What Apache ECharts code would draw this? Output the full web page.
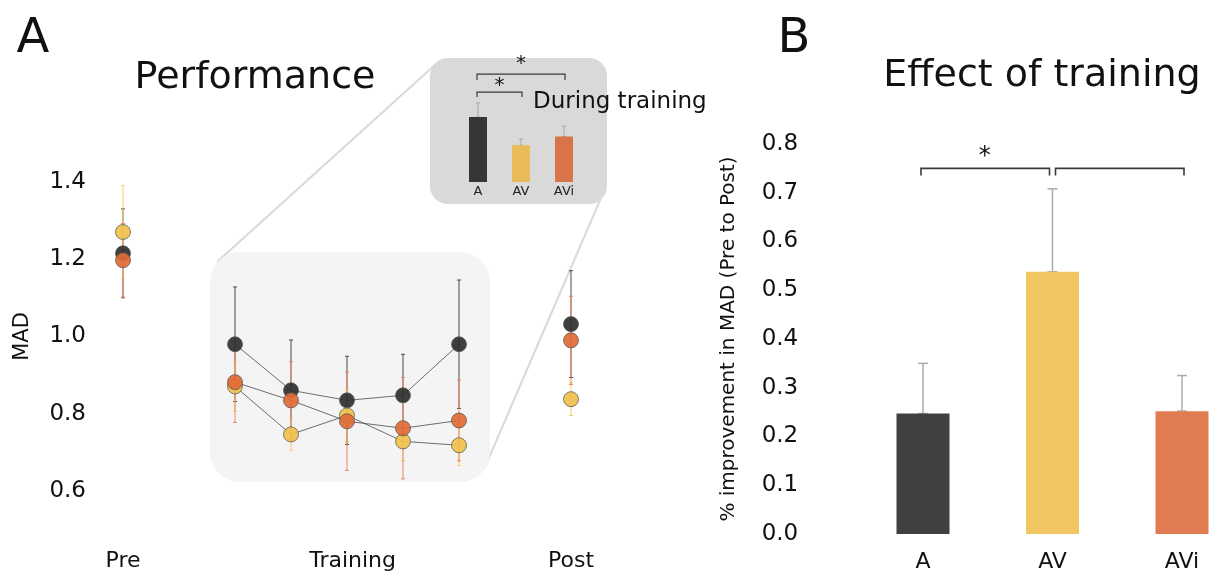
<!DOCTYPE html>
<html><head><meta charset="utf-8">
<script src="https://cdn.jsdelivr.net/npm/echarts@6/dist/echarts.min.js"></script>
<style>html,body{margin:0;padding:0;background:#fff}#c{width:1231px;height:577px}</style>
</head><body><div id="c"></div>
<script>
// ---------- data ----------
const phaseLabels = ['Pre', 'Training', 'Post'];
const phasePos = [0, 4.1, 8];
const sessionX = [0, 2, 3, 4, 5, 6, 8];           // Pre, T1..T5, Post
const madA   = [1.215, 0.980, 0.861, 0.835, 0.848, 0.980, 1.032];
const errA   = [0.115, 0.148, 0.130, 0.114, 0.106, 0.166, 0.138];
const madAV  = [1.270, 0.871, 0.747, 0.796, 0.729, 0.719, 0.838];
const errAV  = [0.120, 0.064, 0.041, 0.068, 0.050, 0.052, 0.042];
const madAVi = [1.197, 0.882, 0.835, 0.781, 0.763, 0.783, 0.990];
const errAVi = [0.095, 0.104, 0.100, 0.127, 0.131, 0.104, 0.114];
const madTicks = [0.6, 0.8, 1.0, 1.2, 1.4];

const groups = ['A', 'AV', 'AVi'];
const duringMean = [0.900, 0.770, 0.810];
const duringErr  = [0.065, 0.028, 0.048];

const improvement    = [0.247, 0.538, 0.252];
const improvementErr = [0.103, 0.170, 0.073];

// ---------- style ----------
const FONT = '"DejaVu Sans", Verdana, sans-serif';
const dotCol = ['#2f2f2f', '#f0c04c', '#e06a35'];
const errCol = ['#4a4a4a', '#f4cd6c', '#ea8a62'];
const barCol = ['#404040', '#f2c761', '#e17c52'];
const insetCol = ['#363636', '#e9bc58', '#d9744a'];

const chart = echarts.init(document.getElementById('c'));

function errRender(color, cap, width) {
  return function (params, api) {
    const x = api.value(0), lo = api.value(1), hi = api.value(2);
    const p1 = api.coord([x, lo]), p2 = api.coord([x, hi]);
    const st = { stroke: color, lineWidth: width };
    return { type: 'group', children: [
      { type: 'line', shape: { x1: p1[0], y1: p1[1], x2: p2[0], y2: p2[1] }, style: st },
      { type: 'line', shape: { x1: p1[0] - cap, y1: p1[1], x2: p1[0] + cap, y2: p1[1] }, style: st },
      { type: 'line', shape: { x1: p2[0] - cap, y1: p2[1], x2: p2[0] + cap, y2: p2[1] }, style: st }
    ]};
  };
}
function errSeries(gi, xs, means, errs, color, cap, width, upOnly, z) {
  return {
    type: 'custom', xAxisIndex: gi, yAxisIndex: gi, z: z, silent: true,
    renderItem: errRender(color, cap, width),
    encode: { x: 0, y: [1, 2] },
    data: xs.map((x, i) => [x, upOnly ? means[i] : means[i] - errs[i], means[i] + errs[i]])
  };
}
function lineSeries(means) {
  return {
    type: 'line', xAxisIndex: 0, yAxisIndex: 0, z: 3, symbol: 'none', silent: true,
    lineStyle: { color: '#4a4a4a', width: 0.8 },
    data: sessionX.slice(1, 6).map((x, i) => [x, means[i + 1]])
  };
}
function dotSeries(means, k) {
  return {
    type: 'scatter', xAxisIndex: 0, yAxisIndex: 0, z: 4, symbolSize: 15,
    itemStyle: { color: dotCol[k], borderColor: '#555', borderWidth: 0.8, opacity: 0.92 },
    data: sessionX.map((x, i) => [x, means[i]])
  };
}

const allMeans = [madA, madAV, madAVi];
const allErrs = [errA, errAV, errAVi];
const series = [];
allMeans.forEach((m, k) => series.push(errSeries(0, sessionX, m, allErrs[k], errCol[k], 2, 1, false, 2)));
allMeans.forEach(m => series.push(lineSeries(m)));
allMeans.forEach((m, k) => series.push(dotSeries(m, k)));

// inset bars
series.push({
  type: 'bar', xAxisIndex: 1, yAxisIndex: 1, barWidth: 18, z: 3,
  data: duringMean.map((v, i) => ({ value: v, itemStyle: { color: insetCol[i] } }))
});
series.push(errSeries(1, [0, 1, 2], duringMean, duringErr, '#a8a8a8', 2, 1, true, 2));

// right bars
series.push({
  type: 'bar', xAxisIndex: 2, yAxisIndex: 2, barWidth: 53, z: 3,
  data: improvement.map((v, i) => ({ value: v, itemStyle: { color: barCol[i] } }))
});
series.push(errSeries(2, [0, 1, 2], improvement, improvementErr, '#ababab', 5, 1.5, true, 2));

function txt(text, x, y, size, align, extra) {
  return Object.assign({
    type: 'text', z: 20, silent: true,
    style: { text: text, x: x, y: y, font: size + 'px ' + FONT, fill: '#111',
             align: align || 'center', verticalAlign: 'middle',
             textAlign: align || 'center', textVerticalAlign: 'middle' }
  }, extra || {});
}

const staticGraphics = [
  { type: 'line', z: -5, silent: true, shape: { x1: 217, y1: 262, x2: 436, y2: 64 }, style: { stroke: '#d9d9d9', lineWidth: 2 } },
  { type: 'line', z: -5, silent: true, shape: { x1: 485, y1: 467, x2: 601, y2: 198 }, style: { stroke: '#d9d9d9', lineWidth: 2 } },
  { type: 'rect', z: -4, silent: true, shape: { x: 210, y: 252, width: 280, height: 230, r: 30 }, style: { fill: '#f4f4f4' } },
  { type: 'rect', z: -3, silent: true, shape: { x: 430, y: 58, width: 177, height: 146, r: 18 }, style: { fill: '#d9d9d9' } },
  txt('A', 33, 40, 48),
  txt('B', 794, 40, 48),
  txt('Performance', 255, 78, 38),
  txt('Effect of training', 1042, 76, 38),
  txt('During training', 533, 102, 23, 'left')
];

chart.setOption({
  animation: false,
  backgroundColor: '#fff',
  grid: [
    { left: 95, width: 504, top: 143, height: 387, outerBoundsMode: 'none', containLabel: false },
    { left: 456.5, width: 129, top: 52, height: 130, outerBoundsMode: 'none', containLabel: false },
    { left: 858.25, width: 388.5, top: 144, height: 390, outerBoundsMode: 'none', containLabel: false }
  ],
  xAxis: [
    { gridIndex: 0, type: 'value', min: -0.5, max: 8.5, z: 5,
      axisLine: { show: false }, axisTick: { show: false }, splitLine: { show: false },
      axisLabel: { customValues: phasePos, formatter: v => phaseLabels[phasePos.indexOf(v)],
                   fontFamily: FONT, fontSize: 22, color: '#111', margin: 20 } },
    { gridIndex: 1, type: 'category', data: groups, z: 5,
      axisLine: { show: false }, axisTick: { show: false },
      axisLabel: { fontFamily: FONT, fontSize: 13, color: '#222', margin: 3 } },
    { gridIndex: 2, type: 'category', data: groups, z: 5,
      axisLine: { show: false }, axisTick: { show: false },
      axisLabel: { fontFamily: FONT, fontSize: 22, color: '#111', margin: 17 } }
  ],
  yAxis: [
    { gridIndex: 0, type: 'value', min: 0.5, max: 1.5, z: 5,
      name: 'MAD', nameLocation: 'middle', nameRotate: 90, nameGap: 62,
      nameTextStyle: { fontFamily: FONT, fontSize: 21, color: '#111' },
      axisLine: { show: false }, axisTick: { show: false }, splitLine: { show: false },
      axisLabel: { customValues: madTicks, formatter: v => v.toFixed(1),
                   fontFamily: FONT, fontSize: 23, color: '#111', margin: 9 } },
    { gridIndex: 1, type: 'value', min: 0.6, max: 1.2, show: false, splitLine: { show: false } },
    { gridIndex: 2, type: 'value', min: 0, max: 0.8, interval: 0.1, z: 5,
      name: '% improvement in MAD (Pre to Post)', nameLocation: 'middle', nameRotate: 90, nameGap: 119,
      nameTextStyle: { fontFamily: FONT, fontSize: 20, color: '#111' },
      axisLine: { show: false }, axisTick: { show: false }, splitLine: { show: false },
      axisLabel: { formatter: v => v.toFixed(1), fontFamily: FONT, fontSize: 23, color: '#111', margin: 60 } }
  ],
  graphic: staticGraphics,
  series: series
});

// significance brackets positioned through the axes
function px(gi, x, y) { return chart.convertToPixel({ xAxisIndex: gi, yAxisIndex: gi }, [x, y]); }
function bracket(gi, c1, c2, val, drop, dx1, dx2, lw) {
  const a = px(gi, c1, val), b = px(gi, c2, val);
  const x1 = a[0] + dx1, x2 = b[0] + dx2, y = a[1];
  return { type: 'polyline', z: 15, silent: true,
    shape: { points: [[x1, y + drop], [x1, y], [x2, y], [x2, y + drop]] },
    style: { stroke: '#3a3a3a', lineWidth: lw, fill: null } };
}
function mid(gi, c1, c2, val) {
  const a = px(gi, c1, val), b = px(gi, c2, val);
  return [(a[0] + b[0]) / 2, a[1]];
}
const extra = [];
extra.push(bracket(2, 0, 1, 0.75, 7, -2, -3, 1.6));
extra.push(bracket(2, 1, 2, 0.75, 7, 3, 2, 1.6));
const s1 = mid(2, 0, 1, 0.75);
extra.push(txt('*', s1[0] - 3, s1[1] - 12, 24));
extra.push(bracket(1, 0, 1, 1.015, 5, -1, 1, 1.2));
extra.push(bracket(1, 0, 2, 1.098, 6, -1, 1, 1.2));
const s2 = mid(1, 0, 1, 1.015), s3 = mid(1, 0, 2, 1.098);
extra.push(txt('*', s2[0], s2[1] - 6, 20));
extra.push(txt('*', s3[0], s3[1] - 10, 20));

chart.setOption({ graphic: staticGraphics.concat(extra) });
</script>
</body></html>
